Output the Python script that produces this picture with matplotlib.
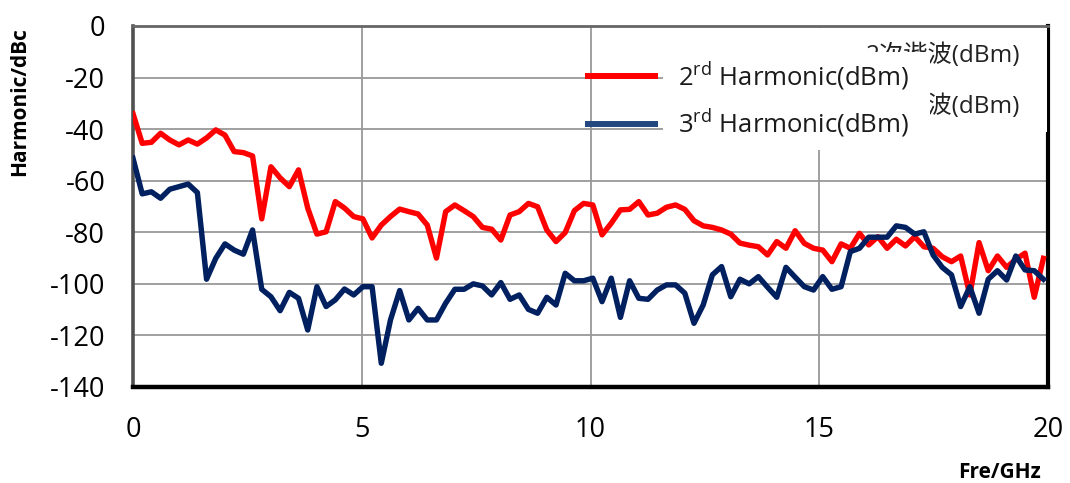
import numpy as np
import matplotlib
matplotlib.use("Agg")
import matplotlib.pyplot as plt
from matplotlib.patches import Rectangle

plt.rcParams['font.family'] = ['Open Sans', 'DejaVu Sans']

freq = np.round(np.linspace(0.0, 19.9, 100), 3)
harm2 = [-34, -45.5, -45.1, -41.6, -44.2, -46.1, -44.2, -45.8, -43.4, -40.3,
         -42.3, -48.7, -49.1, -50.4, -74.8, -54.6, -58.9, -62.3, -55.8, -70.6,
         -80.7, -79.8, -68.1, -70.6, -73.9, -74.8, -82.2, -77.2, -73.9, -71.0,
         -72.0, -72.9, -77.2, -90.0, -72.0, -69.4, -71.6, -73.9, -78.1, -78.8,
         -83.0, -73.3, -72.0, -68.8, -70.1, -79.1, -83.6, -80.1, -71.6, -68.8,
         -69.4, -81.0, -76.5, -71.3, -71.1, -68.1, -73.3, -72.6, -70.3, -69.4,
         -71.1, -75.5, -77.5, -78.1, -79.1, -80.7, -84.2, -85.0, -85.6, -88.8,
         -83.6, -86.2, -79.4, -84.3, -86.2, -86.9, -91.4, -84.5, -86.2, -80.4,
         -84.9, -81.7, -86.2, -82.7, -85.3, -81.7, -85.6, -86.2, -89.5, -91.4,
         -89.2, -104.3, -84.0, -94.9, -89.2, -93.6, -90.5, -88.1, -105.2, -90.1]
harm3 = [-51.3, -65.1, -64.3, -66.8, -63.3, -62.3, -61.3, -64.6, -98.2, -90.1,
         -84.5, -86.9, -88.5, -79.1, -102.1, -105.0, -110.4, -103.3, -105.6, -117.9,
         -101.1, -108.8, -106.2, -102.0, -104.3, -101.1, -101.1, -130.8, -114.0, -102.6,
         -114.0, -109.5, -114.0, -114.0, -107.5, -102.1, -102.1, -100.0, -100.8, -104.3,
         -99.5, -106.0, -104.3, -109.9, -111.4, -105.2, -108.2, -95.9, -98.8, -98.8,
         -97.8, -106.9, -97.8, -113.0, -98.8, -105.6, -106.0, -102.4, -100.4, -100.4,
         -103.6, -115.3, -108.2, -96.5, -93.3, -105.0, -98.2, -100.0, -97.2, -101.3,
         -105.2, -93.6, -97.4, -101.1, -102.4, -97.2, -102.1, -101.1, -87.5, -86.2,
         -81.9, -81.9, -81.9, -77.5, -78.1, -80.7, -79.8, -88.8, -93.6, -96.5,
         -108.8, -101.1, -111.4, -98.2, -94.9, -98.5, -89.2, -94.6, -94.9, -98.2]

xticks = [0, 5, 10, 15, 20]
yticks = [0, -20, -40, -60, -80, -100, -120, -140]
label2_en = "2$^{\\mathregular{rd}}$ Harmonic(dBm)"
label3_en = "3$^{\\mathregular{rd}}$ Harmonic(dBm)"
label2_cn = "2次谐波(dBm)"
label3_cn = "3次谐波(dBm)"

W, H = 1070, 483
fig = plt.figure(figsize=(W / 100, H / 100), dpi=100)
L, R, T, B = 133, 1048, 26, 387
ax = fig.add_axes([L / W, 1 - B / H, (R - L) / W, (B - T) / H])

red = '#ff0000'
navy = '#002060'
ax.plot(freq, harm2, color=red, lw=3.9, zorder=3, solid_joinstyle='round')
ax.plot(freq, harm3, color=navy, lw=3.9, zorder=3, solid_joinstyle='round')

ax.set_xlim(0, 20)
ax.set_ylim(-140, 0)
ax.set_xticks(xticks)
ax.set_yticks(yticks)
ax.set_xticklabels([str(v) for v in xticks], fontsize=19.5)
ax.set_yticklabels([str(v) for v in yticks], fontsize=19.5)
ax.tick_params(axis='both', length=0)
ax.tick_params(axis='y', pad=20)
ax.tick_params(axis='x', pad=21)
ax.grid(True, color='#999999', lw=1.3, zorder=0.5)
ax.set_axisbelow(True)

ax.spines['left'].set_color('#505050')
ax.spines['left'].set_linewidth(2.6)
ax.spines['top'].set_color('#666666')
ax.spines['top'].set_linewidth(2.0)
ax.spines['bottom'].set_color('black')
ax.spines['bottom'].set_linewidth(3.2)
ax.spines['right'].set_color('black')
ax.spines['right'].set_linewidth(3.0)

def axx(px):
    return (px - L) / (R - L)

def axy(py):
    return (B - py) / (B - T)

# Chinese legend (partially hidden)
ax.add_patch(Rectangle((axx(663), axy(132)), axx(1047) - axx(663), axy(28) - axy(132),
                       transform=ax.transAxes, facecolor='white', edgecolor='none',
                       zorder=4, clip_on=False))
cn_fam = ['Open Sans', 'Noto Sans CJK SC', 'DejaVu Sans']
ax.text(axx(1020), axy(56), label2_cn, transform=ax.transAxes, ha='right', va='center',
        fontsize=17.5, family=cn_fam, color='#222222', zorder=5)
ax.text(axx(1020), axy(107), label3_cn, transform=ax.transAxes, ha='right', va='center',
        fontsize=17.5, family=cn_fam, color='#222222', zorder=5)

# English legend over it
ax.add_patch(Rectangle((axx(663), axy(150)), axx(930) - axx(663), axy(52) - axy(150),
                       transform=ax.transAxes, facecolor='white', edgecolor='none',
                       zorder=6, clip_on=False))
ax.plot([axx(585), axx(658)], [axy(76), axy(76)], transform=ax.transAxes,
        color=red, lw=4.3, zorder=7, clip_on=False, solid_capstyle='butt')
ax.plot([axx(585), axx(658)], [axy(124), axy(124)], transform=ax.transAxes,
        color='#23477f', lw=4.3, zorder=7, clip_on=False, solid_capstyle='butt')
ax.text(axx(678), axy(86), label2_en, transform=ax.transAxes, ha='left', va='baseline',
        fontsize=18.5, color='#1a1a1a', zorder=7)
ax.text(axx(678), axy(133), label3_en, transform=ax.transAxes, ha='left', va='baseline',
        fontsize=18.5, color='#1a1a1a', zorder=7)

fig.text(20 / W, 1 - 102 / H, "Harmonic/dBc", rotation=90, ha='center', va='center',
         fontsize=15, fontweight='bold')
fig.text(999 / W, 1 - 472 / H, "Fre/GHz", ha='center', va='center',
         fontsize=15, fontweight='bold')

fig.savefig("out.png", dpi=100)
